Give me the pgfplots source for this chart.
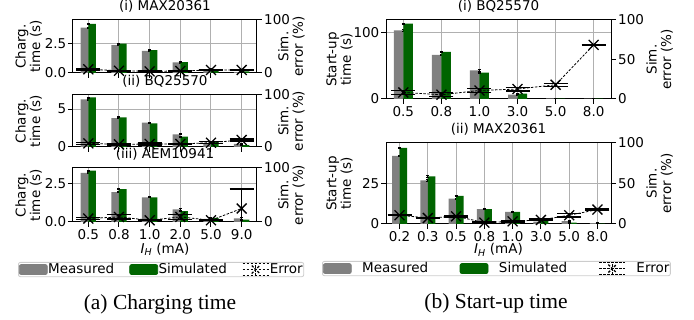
\documentclass[border=0pt]{standalone}
\usepackage{fontspec}
\setmainfont{DejaVu Sans}
\newfontfamily\capfont{Liberation Serif}
\usepackage{pgfplots}
\usepackage{pgfplotstable}
\pgfplotsset{compat=1.18}
\definecolor{mgray}{HTML}{808080}
\definecolor{mgreen}{HTML}{006400}
\definecolor{gridc}{HTML}{B0B0B0}
\definecolor{legc}{HTML}{CCCCCC}
\newcommand{\fs}{\fontsize{13.5}{14.5}\selectfont}

% x m s be e ee : measured, simulated, bar err, sim. error (%), its err
\pgfplotstableread{
x m s be e ee
0 3.80 4.12 0.05 7.0 1.2
1 2.33 2.45 0.05 4.3 1.0
2 1.86 1.92 0.05 3.1 1.0
3 0.89 0.90 0.05 3.8 1.0
4 0.30 0.25 0.05 5.7 1.0
5 0.08 0.14 0.05 5.7 1.0
}\dAi
\pgfplotstableread{
x m s be e ee
0 6.27 6.53 0.07 7.0 2.0
1 3.82 3.91 0.07 5.0 1.0
2 3.21 3.13 0.07 5.8 2.0
3 1.67 1.36 0.07 5.8 1.0
4 0.49 0.70 0.07 8.3 2.0
5 0.40 0.26 0.07 13.5 2.0
}\dAii
\pgfplotstableread{
x m s be e ee
0 3.22 3.36 0.04 6.4 2.0
1 1.95 2.15 0.04 9.4 4.0
2 1.62 1.62 0.04 3.2 1.0
3 0.82 0.71 0.04 9.4 5.0
4 0.20 0.27 0.04 3.2 1.0
5 0.23 0.16 0.04 25.0 36.0
}\dAiii
\pgfplotstableread{
x m s be e ee
0 103.0 113.0 1.0 8.3 2.5
1 66.0 70.5 1.0 5.4 2.5
2 43.0 39.5 1.0 10.8 2.8
3 6.4 8.0 0.5 12.6 2.3
4 0.8 0.6 0.3 18.0 2.0
5 0.5 0.5 0.3 68.5 0.8
}\dBi
\pgfplotstableread{
x m s be e ee
0 42.0 47.0 0.5 10.8 0.7
1 26.9 29.4 0.5 7.4 0.7
2 15.6 17.3 0.5 9.5 0.7
3 9.2 9.2 0.4 1.7 0.7
4 7.5 7.5 0.4 3.3 0.7
5 1.5 2.3 0.3 5.0 1.0
6 1.7 0.8 0.3 10.8 2.0
7 0.6 0.3 0.2 17.8 0.7
}\dBii

\pgfplotsset{
  common/.style={
    scale only axis, anchor=south west, font=\fs,
    tick align=outside, major tick length=5pt,
    every tick/.style={black, line width=1pt},
    axis line style={black, line width=1pt},
    every tick label/.append style={font=\fs, inner sep=0pt},
    /pgf/number format/assume math mode=true,
    clip=true,
  },
  L/.style={common,
    xtick pos=left, ytick pos=left,
    xmajorgrids, ymajorgrids, major grid style={gridc, line width=1pt},
    xticklabel style={yshift=-2pt},
    yticklabel style={xshift=-1.5pt},
    title style={font=\fs, inner sep=0pt, at={(0.5,1)}, anchor=south, yshift=1.5pt},
    every axis x label/.style={at={(axis description cs:0.5,0)}, anchor=north, font=\fs, inner sep=0pt, yshift=-21pt},
  },
  R/.style={common,
    axis x line=none, axis y line*=right,
    ymin=0, ymax=100,
    yticklabel style={xshift=2pt},
  },
  ylabL/.style={every axis y label/.style={at={(axis description cs:#1,0.5)}, anchor=south, rotate=90, align=center, font=\fs, inner sep=0pt}},
  ylabR/.style={every axis y label/.style={at={(axis description cs:#1,0.5)}, anchor=north, rotate=90, align=center, font=\fs, inner sep=0pt}},
  mbar/.style 2 args={ybar, bar width=#2, bar shift=#1, draw=none,
    /pgfplots/error bars/y dir=both, /pgfplots/error bars/y explicit,
    /pgfplots/error bars/error bar style={black, line width=0.8pt},
    /pgfplots/error bars/error mark options={black, line width=0.8pt, mark size=1.5pt, rotate=90}},
  errl/.style={black, line width=0.8pt, dash pattern=on 2.5pt off 1.5pt,
    mark=x, mark size=7pt, mark options={solid, line width=1.3pt},
    /pgfplots/error bars/y dir=both, /pgfplots/error bars/y explicit,
    /pgfplots/error bars/error bar style={solid, line width=1.3pt},
    /pgfplots/error bars/error mark options={solid, line width=1.3pt, mark size=12pt, rotate=90},
    legend image code/.code={
      \draw[black, line width=0.8pt, dash pattern=on 2.5pt off 1.5pt] (0pt,0pt) -- (26pt,0pt);
      \draw[black, line width=1.3pt] (0pt,6pt) -- (26pt,6pt) (0pt,-6pt) -- (26pt,-6pt) (13pt,-6pt) -- (13pt,6pt);
      \draw[black, line width=1.3pt] (9pt,-4pt) -- (17pt,4pt) (9pt,4pt) -- (17pt,-4pt);
    }},
  patch/.style={legend image code/.code={\fill[#1] (0pt,-5pt) rectangle (28pt,5pt);}},
}

\begin{document}
\begin{tikzpicture}
\useasboundingbox (0,0) rectangle (694pt,320pt);

% ---------------- (a)(i) MAX20361
\begin{axis}[L, at={(73pt,247pt)}, width=184pt, height=53pt,
  xmin=-0.5, xmax=5.5, ymin=0, ymax=4.44,
  xtick={0,...,5}, xticklabels={},
  ytick={0,2.5}, yticklabels={0.0,2.5},
  title={(i) MAX20361},
  ylabL=-0.168, ylabel={Charg.\\time (s)}]
\addplot[mbar={-0.125}{0.25}, fill=mgray] table[x=x,y=m,y error=be]{\dAi};
\addplot[mbar={0.125}{0.25}, fill=mgreen] table[x=x,y=s,y error=be]{\dAi};
\end{axis}
\begin{axis}[R, at={(73pt,247pt)}, width=184pt, height=53pt, xmin=-0.5, xmax=5.5,
  ytick={0,100}, yticklabels={0,100}, ylabR=1.114, ylabel={Sim.\\error (\%)}]
\addplot[errl] table[x=x,y=e,y error=ee]{\dAi};
\end{axis}

% ---------------- (a)(ii) BQ25570
\begin{axis}[L, at={(73pt,173pt)}, width=184pt, height=52pt,
  xmin=-0.5, xmax=5.5, ymin=0, ymax=6.86,
  xtick={0,...,5}, xticklabels={},
  ytick={0,5}, yticklabels={0,5},
  title={(ii) BQ25570},
  ylabL=-0.168, ylabel={Charg.\\time (s)}]
\addplot[mbar={-0.125}{0.25}, fill=mgray] table[x=x,y=m,y error=be]{\dAii};
\addplot[mbar={0.125}{0.25}, fill=mgreen] table[x=x,y=s,y error=be]{\dAii};
\end{axis}
\begin{axis}[R, at={(73pt,173pt)}, width=184pt, height=52pt, xmin=-0.5, xmax=5.5,
  ytick={0,100}, yticklabels={0,100}, ylabR=1.114, ylabel={Sim.\\error (\%)}]
\addplot[errl] table[x=x,y=e,y error=ee]{\dAii};
\end{axis}

% ---------------- (a)(iii) AEM10941
\begin{axis}[L, at={(73pt,98pt)}, width=184pt, height=54pt,
  xmin=-0.5, xmax=5.5, ymin=0, ymax=3.54,
  xtick={0,...,5}, xticklabels={0.5,0.8,1.0,2.0,5.0,9.0},
  ytick={0,2.5}, yticklabels={0.0,2.5},
  title={(iii) AEM10941},
  xlabel={\textit{I}\textsubscript{\textit{H}} (mA)},
  ylabL=-0.168, ylabel={Charg.\\time (s)}]
\addplot[mbar={-0.125}{0.25}, fill=mgray] table[x=x,y=m,y error=be]{\dAiii};
\addplot[mbar={0.125}{0.25}, fill=mgreen] table[x=x,y=s,y error=be]{\dAiii};
\end{axis}
\begin{axis}[R, at={(73pt,98pt)}, width=184pt, height=54pt, xmin=-0.5, xmax=5.5,
  ytick={0,100}, yticklabels={0,100}, ylabR=1.114, ylabel={Sim.\\error (\%)},
  legend columns=3, legend cell align=left,
  legend style={at={(axis description cs:-0.2989,-0.7407)}, anchor=north west,
    draw=legc, line width=0.8pt, rounded corners=2pt, fill=white, font=\fs,
    inner xsep=0.5pt, inner ysep=0.5pt, column sep=0pt,
    nodes={inner sep=0.5pt, text depth=0.15em},
    /tikz/every even column/.append style={column sep=14.7pt}}]
\addlegendimage{patch=mgray}
\addlegendentry{Measured}
\addlegendimage{patch=mgreen}
\addlegendentry{Simulated}
\addplot[errl] table[x=x,y=e,y error=ee]{\dAiii};
\addlegendentry{Error}
\end{axis}

% ---------------- (b)(i) BQ25570
\begin{axis}[L, at={(386pt,221pt)}, width=225pt, height=79pt,
  xmin=-0.455, xmax=5.455, ymin=0, ymax=118.4,
  xtick={0,...,5}, xticklabels={0.5,0.8,1.0,3.0,5.0,8.0},
  ytick={0,100}, yticklabels={0,100},
  title={(i) BQ25570},
  ylabL=-0.147, ylabel={Start-up\\time (s)}]
\addplot[mbar={-0.125}{0.25}, fill=mgray] table[x=x,y=m,y error=be]{\dBi};
\addplot[mbar={0.125}{0.25}, fill=mgreen] table[x=x,y=s,y error=be]{\dBi};
\end{axis}
\begin{axis}[R, at={(386pt,221pt)}, width=225pt, height=79pt, xmin=-0.455, xmax=5.455,
  ytick={0,50,100}, yticklabels={0,50,100}, ylabR=1.156, ylabel={Sim.\\error (\%)}]
\addplot[errl] table[x=x,y=e,y error=ee]{\dBi};
\end{axis}

% ---------------- (b)(ii) MAX20361
\begin{axis}[L, at={(386pt,96pt)}, width=225pt, height=81pt,
  xmin=-0.48, xmax=7.48, ymin=0, ymax=50,
  xtick={0,...,7}, xticklabels={0.2,0.3,0.5,0.8,1.0,3.0,5.0,8.0},
  ytick={0,25}, yticklabels={0,25},
  title={(ii) MAX20361},
  xlabel={\textit{I}\textsubscript{\textit{H}} (mA)},
  every axis x label/.append style={yshift=1.5pt},
  ylabL=-0.147, ylabel={Start-up\\time (s)}]
\addplot[mbar={-0.133}{0.265}, fill=mgray] table[x=x,y=m,y error=be]{\dBii};
\addplot[mbar={0.133}{0.265}, fill=mgreen] table[x=x,y=s,y error=be]{\dBii};
\end{axis}
\begin{axis}[R, at={(386pt,96pt)}, width=225pt, height=81pt, xmin=-0.48, xmax=7.48,
  ytick={0,50,100}, yticklabels={0,50,100}, ylabR=1.156, ylabel={Sim.\\error (\%)},
  legend columns=3, legend cell align=left,
  legend style={at={(axis description cs:-0.2844,-0.4568)}, anchor=north west,
    draw=legc, line width=0.8pt, rounded corners=2pt, fill=white, font=\fs,
    inner xsep=0.5pt, inner ysep=0.5pt, column sep=0pt,
    nodes={inner sep=0.5pt, text depth=0.15em},
    /tikz/every odd column/.append style={column sep=10pt},
    /tikz/every even column/.append style={column sep=31pt}}]
\addlegendimage{patch=mgray}
\addlegendentry{Measured}
\addlegendimage{patch=mgreen}
\addlegendentry{Simulated}
\addplot[errl] table[x=x,y=e,y error=ee]{\dBii};
\addlegendentry{Error}
\end{axis}

% ---------------- captions
\node[font=\capfont\fontsize{21.5}{24}\selectfont, anchor=base] at (160pt,10pt) {(a) Charging time};
\node[font=\capfont\fontsize{21.5}{24}\selectfont, anchor=base] at (496pt,11pt) {(b) Start-up time};
\end{tikzpicture}
\end{document}
